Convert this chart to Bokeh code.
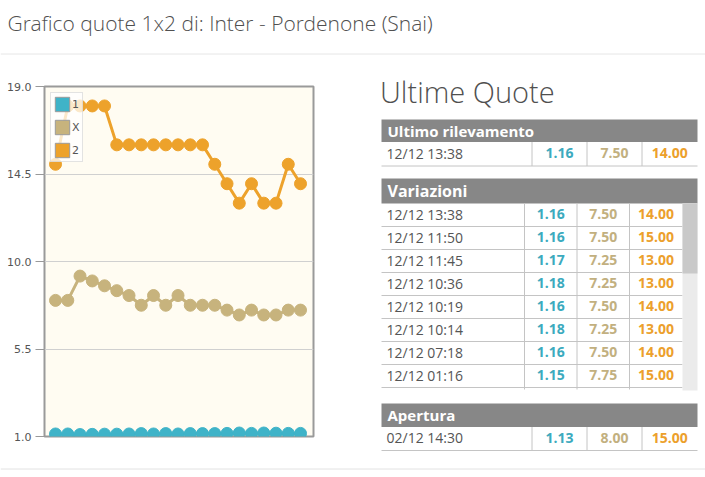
from bokeh.plotting import figure
from bokeh.layouts import column, row
from bokeh.models import Range1d, FixedTicker, NumeralTickFormatter, ColumnDataSource
from bokeh.core.properties import value
from bokeh.embed import file_html
from bokeh.resources import INLINE

# ---------------- data ----------------
title_text = "Grafico quote 1x2 di: Inter - Pordenone (Snai)"
series_names = ["1", "X", "2"]
s1 = [1.13, 1.13, 1.10, 1.11, 1.12, 1.12, 1.13, 1.15, 1.13, 1.15, 1.13, 1.15, 1.15,
      1.15, 1.16, 1.18, 1.16, 1.18, 1.17, 1.16, 1.16]
sX = [8.0, 8.0, 9.25, 9.0, 8.75, 8.5, 8.25, 7.75, 8.25, 7.75, 8.25, 7.75, 7.75,
      7.75, 7.5, 7.25, 7.5, 7.25, 7.25, 7.5, 7.5]
s2 = [15, 18, 18, 18, 18, 16, 16, 16, 16, 16, 16, 16, 16,
      15, 14, 13, 14, 13, 13, 15, 14]
y_ticks = [1.0, 5.5, 10.0, 14.5, 19.0]

last_time = ["12/12 13:38"]
last_q1 = [1.16]
last_qx = [7.50]
last_q2 = [14.00]

var_time = ["12/12 13:38", "12/12 11:50", "12/12 11:45", "12/12 10:36",
            "12/12 10:19", "12/12 10:14", "12/12 07:18", "12/12 01:16"]
var_q1 = [1.16, 1.16, 1.17, 1.18, 1.16, 1.18, 1.16, 1.15]
var_qx = [7.50, 7.50, 7.25, 7.25, 7.50, 7.25, 7.50, 7.75]
var_q2 = [14.00, 15.00, 13.00, 13.00, 14.00, 13.00, 14.00, 15.00]

open_time = ["02/12 14:30"]
open_q1 = [1.13]
open_qx = [8.00]
open_q2 = [15.00]

# ---------------- styles ----------------
C1, CX, C2 = "#3fb3c8", "#c7b37d", "#eda22b"
T1, TX, T2 = "#3caabe", "#c2b07f", "#eca02c"
HEAD = "#878787"
TXT = "#555555"
FONT = value("Open Sans")
LIGHT = value("Open Sans Light")

def blank(w, h, x0, x1, y0, y1):
    f = figure(width=w, height=h, x_range=Range1d(x0, x1), y_range=Range1d(y0, y1),
               toolbar_location=None, output_backend="svg", min_border=0,
               x_axis_location=None, y_axis_location=None, outline_line_color=None,
               background_fill_color="white", border_fill_color="white")
    f.grid.visible = False
    f.frame_align = False
    return f

# ---------------- top strip ----------------
top = blank(705, 60, 0, 705, 60, 0)
top.text(x=[7], y=[22.5], text=[title_text], text_font=LIGHT, text_font_size="21px",
         text_color="#505050", text_baseline="middle", text_align="left")
top.segment(x0=[0], x1=[705], y0=[53.5], y1=[53.5], line_color="#e6e6e6", line_width=1)

# ---------------- chart ----------------
xs = list(range(len(s1)))
p = figure(width=345, height=400, x_range=Range1d(-0.9, 21.06), y_range=Range1d(1, 19),
           toolbar_location=None, output_backend="svg",
           min_border_left=44, min_border_right=32, min_border_top=26, min_border_bottom=24,
           x_axis_location=None, background_fill_color="#fffcf2", border_fill_color="white",
           outline_line_color="#9a9a9a", outline_line_width=2)
p.frame_align = False
p.xgrid.visible = False
p.ygrid.ticker = FixedTicker(ticks=y_ticks)
p.ygrid.grid_line_color = "#d0d0d0"
p.yaxis.ticker = FixedTicker(ticks=y_ticks)
p.yaxis.formatter = NumeralTickFormatter(format="0.0")
p.yaxis.axis_line_color = None
p.yaxis.major_tick_line_color = "#999999"
p.yaxis.major_tick_out = 9
p.yaxis.major_tick_in = 0
p.yaxis.minor_tick_line_color = None
p.yaxis.major_label_standoff = 4
p.yaxis.major_label_text_font = "DejaVu Sans"
p.yaxis.major_label_text_font_size = "11px"
p.yaxis.major_label_text_color = "#555555"

for ys, c in [(s1, C1), (sX, CX), (s2, C2)]:
    src = ColumnDataSource(dict(x=xs, y=ys))
    p.line("x", "y", source=src, line_color=c, line_width=3)
    p.scatter("x", "y", source=src, size=12, fill_color=c, line_color=c)

nan = float("nan")
for name, c in zip(series_names, [C1, CX, C2]):
    p.quad(left=[nan], right=[nan], top=[nan], bottom=[nan], fill_color=c,
           line_color="#9a9a9a", legend_label=name)
lg = p.legend[0]
lg.location = "top_left"
lg.margin = 6
lg.padding = 2
lg.spacing = 5
lg.glyph_width = 18
lg.glyph_height = 18
lg.label_height = 18
lg.label_width = 6
lg.label_standoff = 1
lg.label_text_font = "DejaVu Sans"
lg.label_text_font_size = "11px"
lg.label_text_color = "#555555"
lg.background_fill_alpha = 0.75
lg.border_line_color = "#c8c8c8"

# ---------------- tables ----------------
r = blank(360, 400, 345, 705, 460, 60)
L, R = 381, 697
r.text(x=[L - 1.5], y=[91], text=["Ultime Quote"], text_font=LIGHT, text_font_size="29px",
       text_color="#505050", text_baseline="middle")

def header(y0, y1, label, size):
    r.quad(left=[L], right=[R], top=[y0], bottom=[y1], fill_color=HEAD, line_color=None)
    r.text(x=[L + 6], y=[(y0 + y1) / 2], text=[label], text_font=FONT,
           text_font_size=size, text_font_style="bold", text_color="white",
           text_baseline="middle")

def rows(y_top, rh, times, q1, qx, q2, seps, right):
    n = len(times)
    tops = [y_top + rh * i for i in range(n)]
    mids = [t + rh / 2 - 1 for t in tops]
    bots = [t + rh for t in tops]
    r.segment(x0=[L] * n, x1=[right] * n, y0=bots, y1=bots, line_color="#c4c4c4", line_width=1)
    r.text(x=[L + 5] * n, y=mids, text=times, text_font=FONT, text_font_size="14px",
           text_color=TXT, text_baseline="middle")
    edges = seps + [right]
    for k, (vals, col) in enumerate([(q1, T1), (qx, TX), (q2, T2)]):
        cx = (edges[k] + edges[k + 1]) / 2
        r.text(x=[cx] * n, y=mids, text=[f"{v:.2f}" for v in vals], text_font=FONT,
               text_font_size="14px", text_font_style="bold", text_color=col,
               text_baseline="middle", text_align="center")
    return tops[0], bots[-1]

# Ultimo rilevamento
header(119, 141.5, "Ultimo rilevamento", "15px")
seps1 = [531.5, 586.5, 641.5]
t0, t1 = rows(141.5, 24, last_time, last_q1, last_qx, last_q2, seps1, R)
r.segment(x0=seps1, x1=seps1, y0=[t0] * 3, y1=[t1] * 3, line_color="#c4c4c4")

# Variazioni
header(178, 203, "Variazioni", "16px")
seps2 = [524, 576.5, 629]
v0, v1 = rows(203, 23, var_time, var_q1, var_qx, var_q2, seps2, 682)
r.segment(x0=seps2, x1=seps2, y0=[v0] * 3, y1=[v1 + 2] * 3, line_color="#c4c4c4")
r.quad(left=[682], right=[697], top=[v0], bottom=[v1 + 3], fill_color="#ebebeb", line_color=None)
r.quad(left=[682], right=[697], top=[v0], bottom=[v0 + 70], fill_color="#c9c9c9", line_color=None)

# Apertura
header(403, 426.5, "Apertura", "15px")
a0, a1 = rows(426.5, 23.5, open_time, open_q1, open_qx, open_q2, seps1, R)
r.segment(x0=seps1, x1=seps1, y0=[a0] * 3, y1=[a1] * 3, line_color="#c4c4c4")

# ---------------- bottom strip ----------------
bottom = blank(705, 17, 0, 705, 17, 0)
bottom.segment(x0=[0], x1=[705], y0=[8.5], y1=[8.5], line_color="#e2e2e2", line_width=1)

layout = column(top, row(p, r), bottom)
open("out.html", "w").write(file_html(layout, INLINE))
